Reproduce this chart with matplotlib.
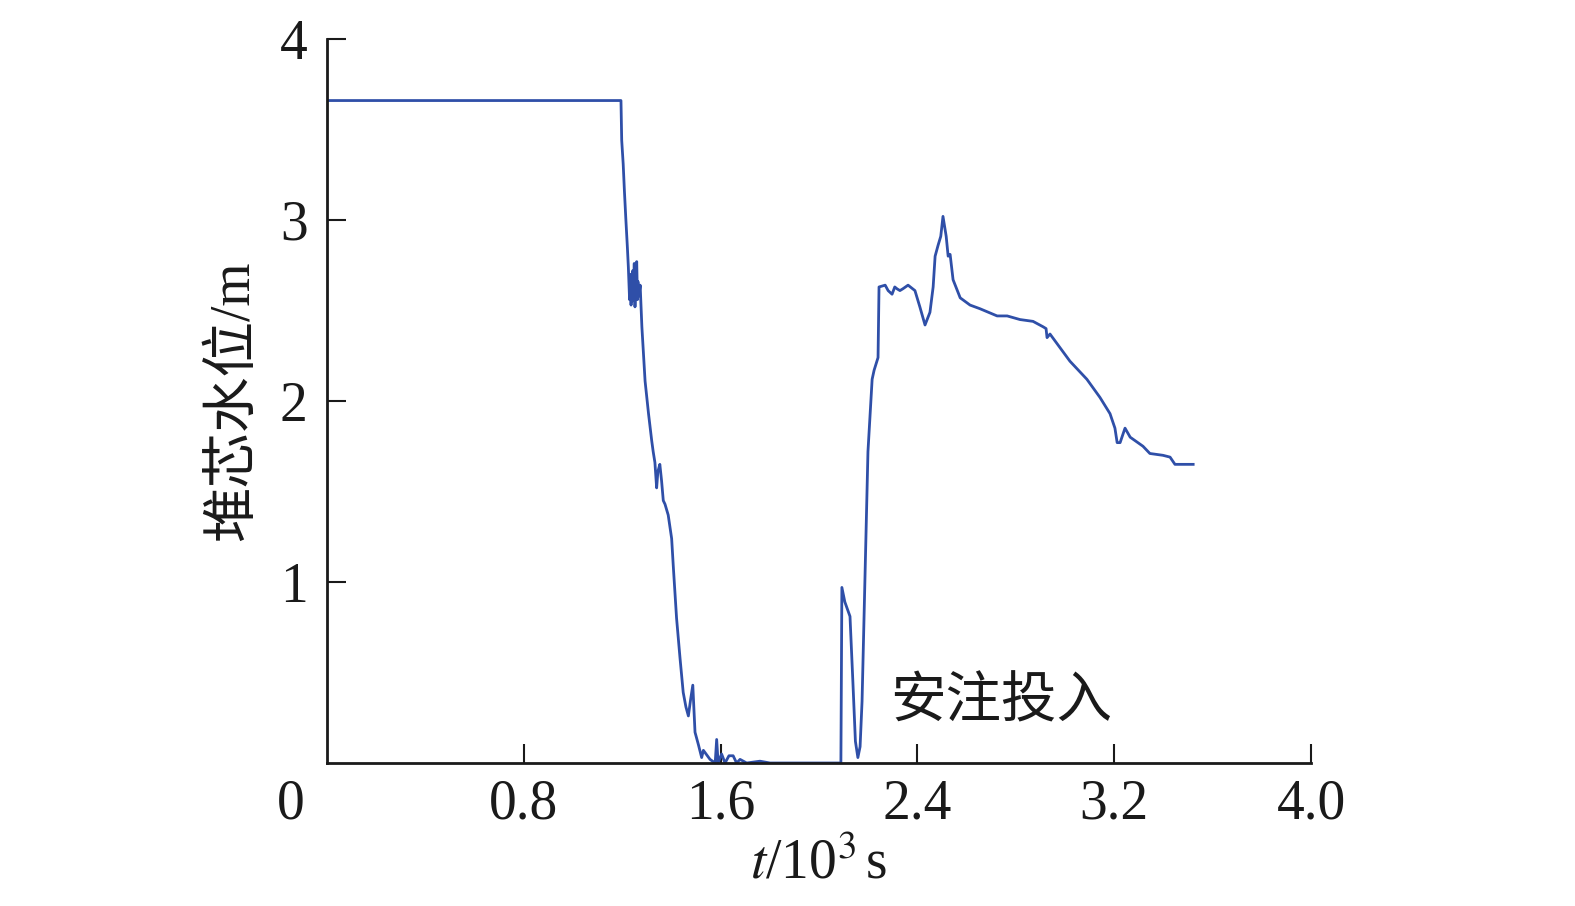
import matplotlib
matplotlib.use("Agg")
import matplotlib.pyplot as plt
import matplotlib.transforms as mtransforms

# Data: time in 10^3 s, core water level in m
t = [0.000, 1.195, 1.198, 1.204, 1.209, 1.215, 1.221, 1.225, 1.230, 1.233,
     1.236, 1.238, 1.240, 1.243, 1.246, 1.249, 1.252, 1.255, 1.259, 1.262,
     1.264, 1.268, 1.273, 1.280, 1.293, 1.307, 1.320,
     1.326, 1.333, 1.340, 1.345, 1.353, 1.360, 1.367, 1.374, 1.387, 1.401,
     1.408, 1.421, 1.435, 1.448, 1.459, 1.469, 1.478, 1.487, 1.496, 1.510,
     1.523, 1.530, 1.557, 1.578, 1.584, 1.590, 1.604, 1.618, 1.634, 1.651,
     1.665, 1.679, 1.706, 1.760, 1.801, 2.089, 2.093, 2.105, 2.126, 2.138,
     2.148, 2.158, 2.167, 2.175, 2.187, 2.199, 2.216, 2.224, 2.240, 2.244,
     2.269, 2.281, 2.297, 2.308, 2.317, 2.329, 2.341, 2.362, 2.390, 2.410,
     2.431, 2.451, 2.464, 2.472, 2.484, 2.495, 2.504, 2.517, 2.525, 2.533,
     2.545, 2.574, 2.614, 2.654, 2.724, 2.765, 2.817, 2.870, 2.911, 2.923,
     2.927, 2.939, 3.020, 3.089, 3.142, 3.183, 3.203, 3.212, 3.224, 3.244,
     3.265, 3.317, 3.345, 3.398, 3.427, 3.447, 3.521]
level = [3.66, 3.66, 3.44, 3.31, 3.16, 3.00, 2.85, 2.74, 2.56, 2.70,
         2.53, 2.66, 2.55, 2.72, 2.58, 2.76, 2.52, 2.70, 2.77, 2.56,
         2.66, 2.58, 2.64, 2.41, 2.11, 1.93, 1.78,
         1.72, 1.66, 1.52, 1.61, 1.65, 1.56, 1.45, 1.43, 1.37, 1.24,
         1.08, 0.80, 0.58, 0.39, 0.31, 0.26, 0.35, 0.43, 0.17, 0.10,
         0.03, 0.07, 0.02, 0.00, 0.13, 0.00, 0.05, 0.00, 0.04, 0.04,
         0.00, 0.02, 0.00, 0.01, 0.00, 0.00, 0.97, 0.89, 0.81, 0.44,
         0.12, 0.03, 0.09, 0.34, 1.03, 1.72, 2.12, 2.17, 2.24, 2.63,
         2.64, 2.61, 2.59, 2.63, 2.62, 2.61, 2.62, 2.64, 2.61, 2.52,
         2.42, 2.49, 2.63, 2.80, 2.86, 2.91, 3.02, 2.91, 2.80, 2.81,
         2.67, 2.57, 2.53, 2.51, 2.47, 2.47, 2.45, 2.44, 2.41, 2.40,
         2.35, 2.37, 2.22, 2.12, 2.02, 1.93, 1.85, 1.77, 1.77, 1.85,
         1.80, 1.75, 1.71, 1.70, 1.69, 1.65, 1.65]

xticks = [0.8, 1.6, 2.4, 3.2, 4.0]
xticklabels = ["0.8", "1.6", "2.4", "3.2", "4.0"]
yticks = [1, 2, 3, 4]
yticklabels = ["1", "2", "3", "4"]

plt.rcParams['font.family'] = ['Liberation Serif', 'Noto Sans CJK SC']
plt.rcParams['mathtext.fontset'] = 'stix'

ink = '#1a1a1a'
fig = plt.figure(figsize=(15.75, 9.06), dpi=100)
ax = fig.add_axes([327 / 1575, 1 - 763 / 906, 984 / 1575, 724 / 906])

ax.plot(t, level, color='#2f4fa8', lw=2.0)

ax.set_xlim(0, 4)
ax.set_ylim(0, 4)
ax.spines['top'].set_visible(False)
ax.spines['right'].set_visible(False)
for s in ('left', 'bottom'):
    ax.spines[s].set_linewidth(2)
    ax.spines[s].set_color(ink)

ax.set_xticks(xticks)
ax.set_xticklabels(xticklabels)
ax.set_yticks(yticks)
ax.set_yticklabels(yticklabels)
ax.tick_params(direction='in', length=14, width=1.5, colors=ink,
               labelsize=40, labelcolor=ink)
ax.tick_params(axis='x', pad=11)
ax.tick_params(axis='y', pad=14)

# origin label
ox = ax.text(-0.148, 0, "0", fontsize=40, color=ink, ha='center', va='top')
ox.set_transform(mtransforms.blended_transform_factory(ax.transData, ax.transAxes)
                 + mtransforms.ScaledTranslation(0, -11 / 72, fig.dpi_scale_trans))

ax.set_xlabel(r"$t$/10$^{3}\,$s", fontsize=40, color=ink, labelpad=6)
ax.set_ylabel("堆芯水位/m", fontsize=40, color=ink, labelpad=14,
              family=['Liberation Serif', 'Noto Sans CJK SC'])

ax.text(2.29, 0.34, "安注投入", fontsize=40, color=ink,
        family=['Noto Sans CJK SC'], ha='left', va='center')

fig.savefig("out.png", dpi=100)
